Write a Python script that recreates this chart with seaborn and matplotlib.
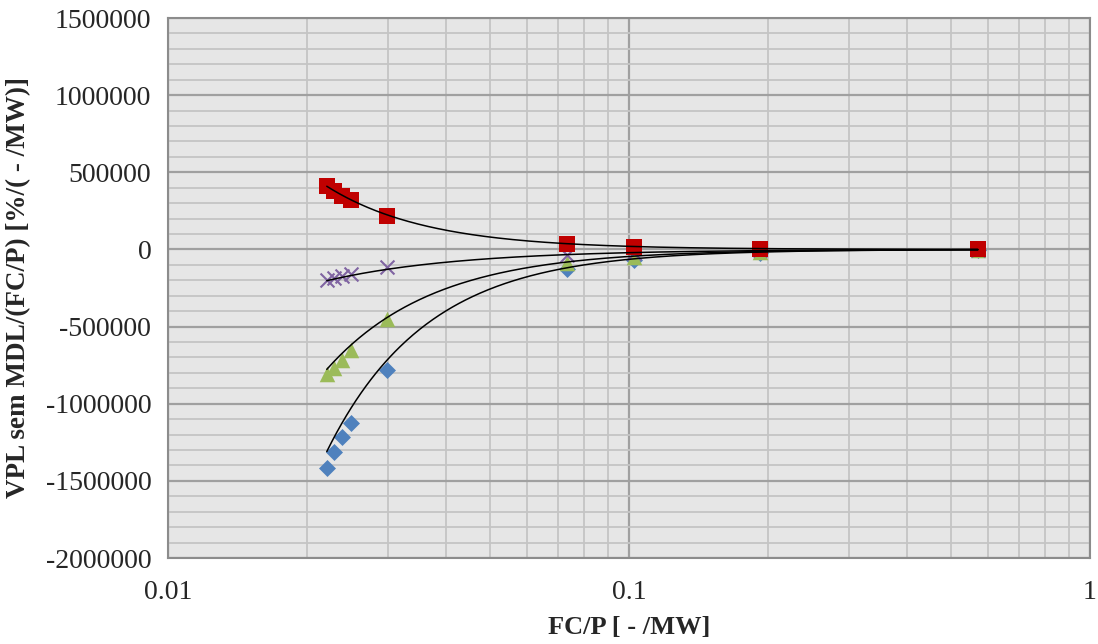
import numpy as np
import pandas as pd
import matplotlib
matplotlib.use("Agg")
import matplotlib.pyplot as plt
import matplotlib.ticker as mticker
import seaborn as sns

# FC/P values shared by all four series
fc_p = [0.0221, 0.0229, 0.0239, 0.0249, 0.0298, 0.0734, 0.1025, 0.192, 0.571]

vpl_blue = [-1415000, -1315000, -1214000, -1123000, -782000, -127000, -67000, -21000, -2000]
vpl_green = [-810000, -768000, -717000, -652000, -453000, -88000, -47000, -15000, -1500]
vpl_purple = [-198000, -183000, -172000, -161000, -116000, -36000, -20000, -6000, -1000]
vpl_red = [411000, 378000, 348000, 320000, 218000, 34000, 17000, 4000, 500]

# power trend lines y = a * x**b
trend_a = {"blue": -640.0, "green": -600.0, "purple": -666.0, "red": 200.0}
trend_b = {"blue": -2.0, "green": -1.88, "purple": -1.5, "red": -2.0}

colors = {"blue": "#4f81bd", "green": "#9bbb59", "purple": "#8064a2", "red": "#c00000"}
markers = {"blue": "D", "green": "^", "purple": "x", "red": "s"}
msizes = {"blue": 75, "green": 125, "purple": 100, "red": 125}

series = {"blue": vpl_blue, "green": vpl_green, "purple": vpl_purple, "red": vpl_red}

sns.set_theme(style="white")
plt.rcParams["font.family"] = ["Liberation Serif", "DejaVu Serif"]

fig = plt.figure(figsize=(10.98, 6.44), dpi=100)
ax = fig.add_axes([168 / 1098, 1 - 558 / 644, (1090 - 168) / 1098, (558 - 18) / 644])
ax.set_facecolor("#e6e6e6")

for i, (name, vals) in enumerate(series.items()):
    df = pd.DataFrame({"x": fc_p, "y": vals})
    kw = dict(linewidth=1.5) if markers[name] == "x" else dict(linewidth=0)
    sns.scatterplot(data=df, x="x", y="y", ax=ax, marker=markers[name],
                    color=colors[name], s=msizes[name], zorder=3 + i, **kw)

xs = np.logspace(np.log10(min(fc_p)), np.log10(max(fc_p)), 400)
for name in series:
    tdf = pd.DataFrame({"x": xs, "y": trend_a[name] * xs ** trend_b[name]})
    sns.lineplot(data=tdf, x="x", y="y", ax=ax, color="black", linewidth=1.1,
                 estimator=None, sort=False, zorder=10)

ax.set_xscale("log")
ax.set_xlim(0.01, 1)
ax.set_ylim(-2000000, 1500000)
ax.xaxis.set_major_locator(mticker.LogLocator(base=10, numticks=10))
ax.xaxis.set_minor_locator(mticker.LogLocator(base=10, subs=np.arange(2, 10), numticks=20))
ax.xaxis.set_major_formatter(mticker.FuncFormatter(lambda v, p: f"{v:g}"))
ax.xaxis.set_minor_formatter(mticker.NullFormatter())
ax.yaxis.set_major_locator(mticker.MultipleLocator(500000))
ax.yaxis.set_minor_locator(mticker.MultipleLocator(100000))
ax.yaxis.set_major_formatter(mticker.FuncFormatter(lambda v, p: f"{int(round(v))}"))

ax.grid(which="major", color="#a0a0a0", linewidth=1.6)
ax.grid(which="minor", color="#c4c4c4", linewidth=1.3)
ax.set_axisbelow(True)

for sp in ax.spines.values():
    sp.set_color("#8c8c8c")
    sp.set_linewidth(1.5)

ax.tick_params(which="both", direction="out", color="#8c8c8c", width=1.3)
ax.tick_params(which="major", length=6, labelsize=20, pad=6)
ax.tick_params(which="minor", length=6)
ax.tick_params(axis="x", which="major", pad=10)

ax.set_xlabel("FC/P [ - /MW]", fontsize=19, fontweight="bold", labelpad=8)
ax.set_ylabel("VPL sem MDL/(FC/P) [%/( - /MW)]", fontsize=19.5, fontweight="bold")
ax.yaxis.set_label_coords(-0.148, 0.5)

fig.savefig("out.png", dpi=100)
